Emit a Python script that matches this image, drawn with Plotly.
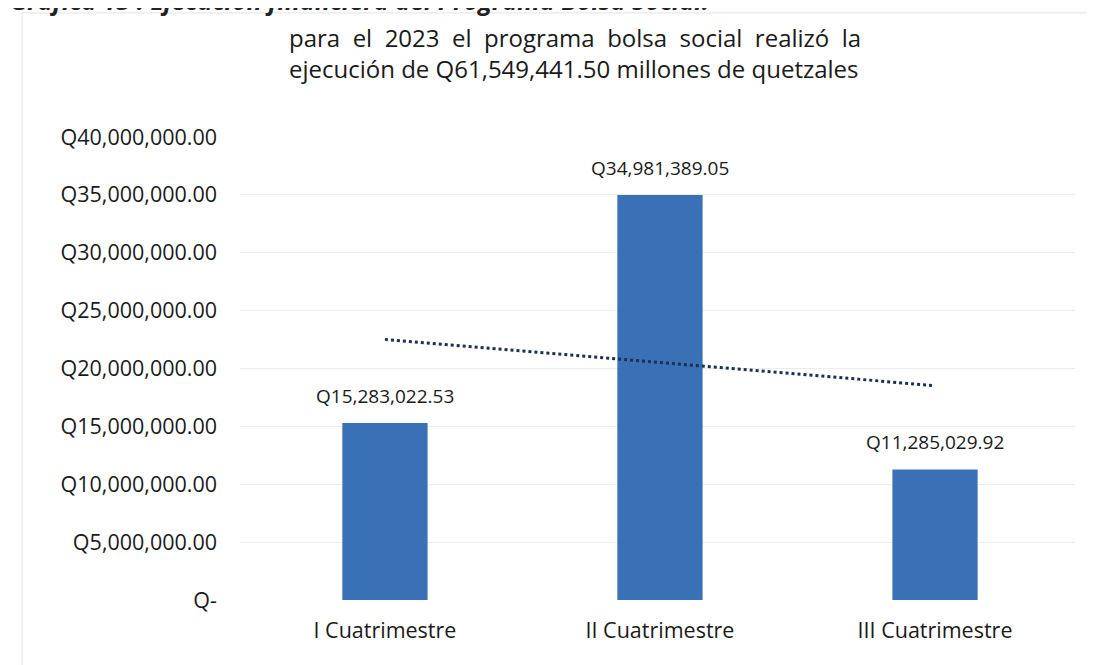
import numpy as np
import plotly.graph_objects as go

categories = ["I Cuatrimestre", "II Cuatrimestre", "III Cuatrimestre"]
values = [15283022.53, 34981389.05, 11285029.92]
value_labels = ["Q15,283,022.53", "Q34,981,389.05", "Q11,285,029.92"]
tick_vals = [0, 5e6, 10e6, 15e6, 20e6, 25e6, 30e6, 35e6, 40e6]
tick_text = ["Q-", "Q5,000,000.00", "Q10,000,000.00", "Q15,000,000.00", "Q20,000,000.00",
             "Q25,000,000.00", "Q30,000,000.00", "Q35,000,000.00", "Q40,000,000.00"]
subtitle_line1 = ["para", "el", "2023", "el", "programa", "bolsa", "social", "realizó", "la"]
subtitle_line2 = "ejecución de Q61,549,441.50 millones de quetzales"
header = "Gráfica 13 : Ejecución financiera del Programa Bolsa Social."

FONT = "Open Sans"
xpos = np.arange(len(categories))

# linear trendline (Excel-style) fitted on category index
slope, intercept = np.polyfit(xpos, values, 1)
trend = slope * xpos + intercept

fig = go.Figure()
fig.add_trace(go.Bar(
    x=xpos, y=values, width=0.31,
    marker=dict(color="#3A71B6", line=dict(width=0)),
    showlegend=False, hoverinfo="skip",
))
fig.add_trace(go.Scatter(
    x=xpos, y=trend, mode="lines",
    line=dict(color="#1E2F4F", width=3, dash="dot"),
    showlegend=False, hoverinfo="skip",
))

for i, (v, lab) in enumerate(zip(values, value_labels)):
    fig.add_annotation(x=xpos[i], y=v, text=lab, showarrow=False,
                       yanchor="bottom", yshift=12,
                       font=dict(family=FONT, size=19, color="#1a1a1a"))

# justified first line (wider word gaps), as in the source
gap = "&nbsp;&nbsp;"
subtitle = gap.join(subtitle_line1) + "<br>" + subtitle_line2
fig.add_annotation(xref="paper", yref="paper", x=(287 - 240) / 835, y=1.181,
                   xanchor="left", yanchor="middle", align="left",
                   text=subtitle, showarrow=False,
                   font=dict(family=FONT, size=24, color="#1a1a1a"))

fig.add_annotation(xref="paper", yref="paper", x=-0.278, y=1.296,
                   xanchor="left", yanchor="middle", text="<b><i>" + header + "</i></b>",
                   showarrow=False, font=dict(family=FONT, size=25, color="#222222"))

fig.add_shape(type="rect", xref="paper", yref="paper",
              x0=-0.261, x1=1.2, y0=-0.3, y1=1.268,
              line=dict(color="#e2e2e2", width=1), layer="below")

fig.update_layout(
    width=1095, height=665,
    margin=dict(l=232, r=28, t=129, b=73),
    paper_bgcolor="white", plot_bgcolor="white",
    font=dict(family=FONT, size=16, color="#1a1a1a"),
)
fig.update_xaxes(
    tickmode="array", tickvals=list(xpos), ticktext=categories,
    range=[-0.527, 2.509], showgrid=False, zeroline=False, showline=False,
    ticks="", ticklabelstandoff=15,
    tickfont=dict(family=FONT, size=21.5, color="#1a1a1a"),
)
fig.update_yaxes(
    range=[0, 40e6], tickmode="array", tickvals=tick_vals, ticktext=tick_text,
    showgrid=True, gridcolor="#ececec", gridwidth=1, zeroline=False,
    showline=False, ticks="", ticklabelstandoff=22,
    tickfont=dict(family=FONT, size=21.5, color="#1a1a1a"),
)

fig.write_html("out.html")
